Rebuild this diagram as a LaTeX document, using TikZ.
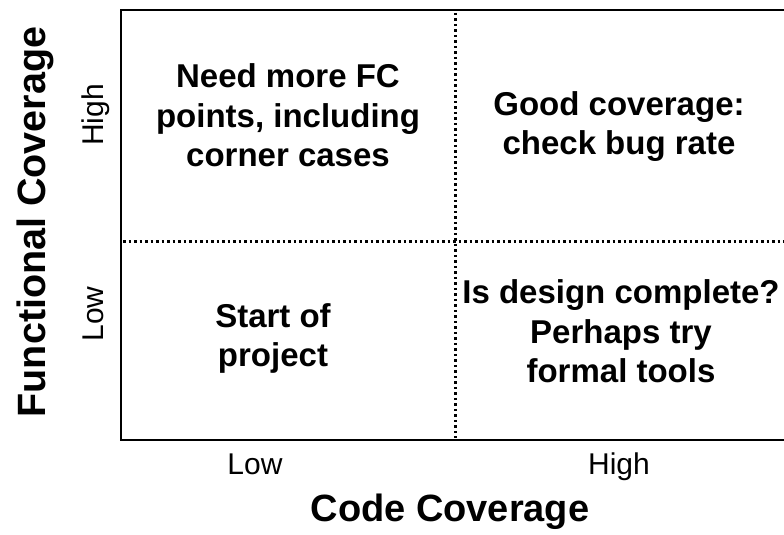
\documentclass[tikz,border=0pt]{standalone}
\usepackage{fontspec}
\setmainfont{Liberation Sans}
\tikzset{
  quad/.style={font=\fontsize{33}{39.5}\selectfont\bfseries, align=center, anchor=base},
  tick/.style={font=\fontsize{30}{36}\selectfont, anchor=base},
  axis/.style={font=\fontsize{38}{46}\selectfont\bfseries, anchor=base},
  divider/.style={line width=3pt, dash pattern=on 2.5pt off 3pt}
}

\begin{document}
\begin{tikzpicture}[x=1pt,y=1pt]
  \useasboundingbox (0,0) rectangle (784,535);
  \clip (0,0) rectangle (784,535);
  \coordinate (tr) at (800,525);
  \coordinate (tl) at (121,525);
  \coordinate (bl) at (121,95);
  \coordinate (br) at (800,95);
  \coordinate (vt) at (455,522);
  \coordinate (vb) at (455,97);
  \coordinate (hl) at (123,293);
  \coordinate (hr) at (800,293);
  \draw[line width=2.5pt] (tr) -- (tl) -- (bl) -- (br);
  \draw[divider] (vt) -- (vb);
  \draw[divider] (hl) -- (hr);
  \node[quad] (need) at (288,368) {Need more FC\\points, including\\corner cases};
  \node[quad] (good) at (619,380) {Good coverage:\\check bug rate};
  \node[quad] (start) at (273,168) {Start of\\project};
  \node[quad] (isdesign) at (621,152) {Is design complete?\\Perhaps try\\formal tools};
  \node[tick] (xlow) at (255,60) {Low};
  \node[tick] (xhigh) at (619,60) {High};
  \node[tick, rotate=90] (yhigh) at (103,420) {High};
  \node[tick, rotate=90] (ylow) at (103,221) {Low};
  \node[axis] (code) at (450,13) {Code Coverage};
  \node[axis, rotate=90, font=\fontsize{39.5}{46}\selectfont\bfseries] (func) at (45,313) {Functional Coverage};
\end{tikzpicture}
\end{document}
